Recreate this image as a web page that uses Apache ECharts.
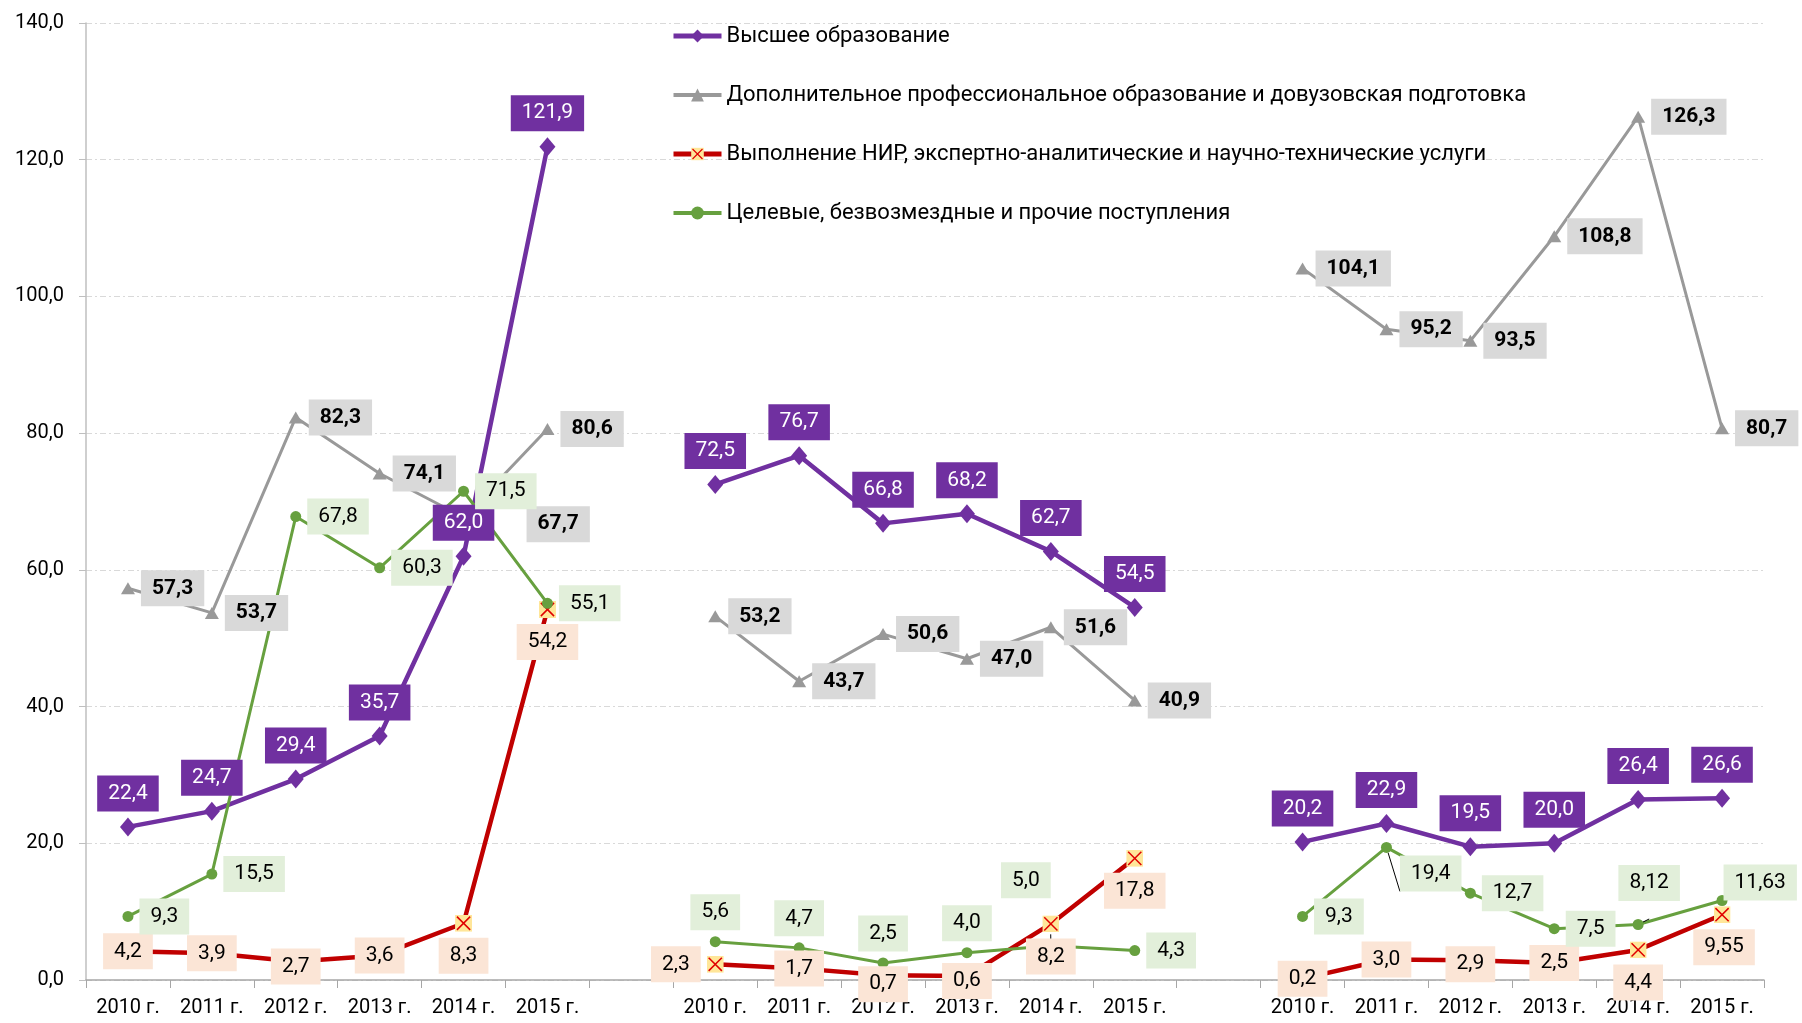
<!DOCTYPE html>
<html>
<head>
<meta charset="utf-8">
<title>Доходы по направлениям</title>
<script src="https://cdn.jsdelivr.net/npm/echarts@6/dist/echarts.min.js"></script>
<style>
  html, body { margin: 0; padding: 0; background: #fff; }
  #chart { width: 1802px; height: 1023px; }
</style>
</head>
<body>
<div id="chart"></div>
<script>
// категории: три группы по 6 лет, между группами пустая позиция
const years = ['2010 г.', '2011 г.', '2012 г.', '2013 г.', '2014 г.', '2015 г.']
const categories = [...years, '', ...years, '', ...years]

const seriesNames = [
  'Высшее образование',
  'Дополнительное профессиональное образование и довузовская подготовка',
  'Выполнение НИР, экспертно-аналитические и научно-технические услуги',
  'Целевые, безвозмездные и прочие поступления'
]

// значения (null — разрыв между группами)
const higherEdu = [22.4, 24.7, 29.4, 35.7, 62.0, 121.9, null, 72.5, 76.7, 66.8, 68.2, 62.7, 54.5, null, 20.2, 22.9, 19.5, 20.0, 26.4, 26.6]
const extraEdu = [57.3, 53.7, 82.3, 74.1, 67.7, 80.6, null, 53.2, 43.7, 50.6, 47.0, 51.6, 40.9, null, 104.1, 95.2, 93.5, 108.8, 126.3, 80.7]
const research = [4.2, 3.9, 2.7, 3.6, 8.3, 54.2, null, 2.3, 1.7, 0.7, 0.6, 8.2, 17.8, null, 0.2, 3.0, 2.9, 2.5, 4.4, 9.55]
const targeted = [9.3, 15.5, 67.8, 60.3, 71.5, 55.1, null, 5.6, 4.7, 2.5, 4.0, 5.0, 4.3, null, 9.3, 19.4, 12.7, 7.5, 8.12, 11.63]

// где стоят подписи
const higherPlace = Array(20).fill('top')
const extraPlace = Array(20).fill('right')
const researchPlace = ['inside', 'inside', 'inside', 'inside', 'bottom', 'bottom', null,
  'left', 'inside', 'inside', 'inside', 'bottom', 'bottom', null,
  'inside', 'inside', 'inside', 'inside', 'bottom', 'bottom']
const targetedPlace = ['right', 'right', 'right', 'right', 'right', 'right', null,
  'top', 'top', 'top', 'top', 'top', 'right', null,
  'right', 'right', 'right', 'right', 'top', 'right']

// ручные сдвиги отдельных подписей
const extraNudge = { 4: [50, 7] }
const researchNudge = { 2: [0, 5], 9: [0, 9], 10: [0, 5], 16: [0, 4], 19: [2, 0] }
const targetedNudge = { 11: [-25, -36], 15: [2, 26], 18: [11, -12], 19: [-10, -18] }
// выноски у сдвинутых подписей
const targetedLeader = [11, 15, 18]

const fmt = v => {
  const one = Math.abs(Math.round(v * 10) - v * 10) < 1e-9
  return v.toFixed(one ? 1 : 2).replace('.', ',')
}

const buildData = (values, places, nudges, leaders) => values.map((v, i) => {
  if (v == null) return null
  const item = { value: v, label: { position: places[i] } }
  if (nudges && nudges[i]) item.label.offset = nudges[i]
  if (leaders && leaders.includes(i)) {
    item.labelLine = { show: true, lineStyle: { color: '#000', width: 1 } }
  }
  return item
})

const FONT = 'Roboto, "Noto Sans", sans-serif'

const crossIcon = 'image://data:image/svg+xml;charset=utf-8,' + encodeURIComponent(
  '<svg xmlns="http://www.w3.org/2000/svg" width="18" height="18" viewBox="0 0 18 18">' +
  '<rect x="0" y="0" width="18" height="18" fill="#FFE699"/>' +
  '<path d="M2 2L16 16M16 2L2 16" stroke="#E00000" stroke-width="1.6"/></svg>')

const labelBase = {
  show: true,
  fontFamily: FONT,
  fontSize: 21,
  lineHeight: 22,
  padding: [7, 11],
  color: '#000',
  formatter: p => fmt(p.value)
}

const chart = echarts.init(document.getElementById('chart'))

const option = {
  animation: false,
  backgroundColor: '#fff',
  grid: { left: 86, right: 38, top: 23, bottom: 43, containLabel: false },
  legend: {
    orient: 'vertical',
    left: 666,
    top: 19,
    itemWidth: 48,
    itemHeight: 16,
    itemGap: 35,
    textStyle: { fontFamily: FONT, fontSize: 22, lineHeight: 24, color: '#000' },
    data: [
      { name: seriesNames[0], lineStyle: { width: 5 } },
      { name: seriesNames[1], lineStyle: { width: 4 } },
      { name: seriesNames[2], lineStyle: { width: 5 } },
      { name: seriesNames[3], lineStyle: { width: 4 } }
    ]
  },
  xAxis: {
    type: 'category',
    data: categories,
    boundaryGap: true,
    axisLine: { lineStyle: { color: '#A6A6A6', width: 1.5 } },
    axisTick: { show: true, interval: 0, length: 8, lineStyle: { color: '#A6A6A6' } },
    axisLabel: { interval: 0, margin: 18, fontFamily: FONT, fontSize: 20, color: '#000' }
  },
  yAxis: {
    type: 'value',
    min: 0,
    max: 140,
    interval: 20,
    axisLine: { show: true, lineStyle: { color: '#BFBFBF', width: 1.5 } },
    axisTick: { show: true, length: 7, lineStyle: { color: '#BFBFBF' } },
    axisLabel: {
      margin: 22,
      fontFamily: FONT,
      fontSize: 20,
      color: '#000',
      formatter: v => v.toFixed(1).replace('.', ',')
    },
    splitLine: { lineStyle: { color: '#D9D9D9', type: [6, 3, 2, 3] } }
  },
  series: [
    {
      name: seriesNames[0],
      type: 'line',
      data: buildData(higherEdu, higherPlace),
      symbol: 'diamond',
      symbolSize: [16, 19],
      itemStyle: { color: '#7030A0' },
      lineStyle: { color: '#7030A0', width: 4.5 },
      label: { ...labelBase, color: '#fff', backgroundColor: '#7030A0', distance: 6 }
    },
    {
      name: seriesNames[1],
      type: 'line',
      data: buildData(extraEdu, extraPlace, extraNudge),
      symbol: 'triangle',
      symbolSize: [14, 12],
      itemStyle: { color: '#999999' },
      lineStyle: { color: '#999999', width: 3 },
      label: { ...labelBase, fontWeight: 'bold', backgroundColor: '#D9D9D9', distance: 6 }
    },
    {
      name: seriesNames[2],
      type: 'line',
      data: buildData(research, researchPlace, researchNudge),
      symbol: crossIcon,
      symbolSize: 17,
      itemStyle: { color: '#C00000' },
      lineStyle: { color: '#C00000', width: 4.5 },
      label: { ...labelBase, backgroundColor: '#FBE5D6', distance: 6 }
    },
    {
      name: seriesNames[3],
      type: 'line',
      data: buildData(targeted, targetedPlace, targetedNudge, targetedLeader),
      symbol: 'circle',
      symbolSize: 11,
      itemStyle: { color: '#67A03F' },
      lineStyle: { color: '#67A03F', width: 3 },
      label: { ...labelBase, backgroundColor: '#E2EFDA', distance: 6 }
    }
  ]
}

chart.setOption(option)
</script>
</body>
</html>
